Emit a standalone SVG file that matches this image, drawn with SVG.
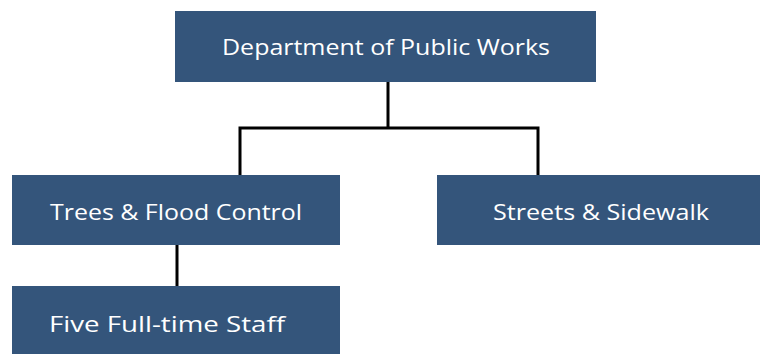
<svg xmlns="http://www.w3.org/2000/svg" width="760" height="354" viewBox="0 0 760 354">
<style>
.box{fill:#34557b;}
.lbl{font-family:"Open Sans","Noto Sans",sans-serif;font-size:22px;fill:#ffffff;}
.con{stroke:#000000;stroke-width:3;fill:none;}
</style>
<rect width="760" height="354" fill="#ffffff"/>
<g id="connectors">
<path class="con" d="M388,82 V128 M240,128 H538 M240,126.5 V175 M538,126.5 V175 M177,245 V286"/>
</g>
<g id="dpw">
<rect class="box" x="175" y="11" width="421" height="71"/>
<text class="lbl" x="222" y="55" textLength="328" lengthAdjust="spacingAndGlyphs">Department of Public Works</text>
</g>
<g id="trees">
<rect class="box" x="12" y="175" width="328" height="70"/>
<text class="lbl" x="50" y="220" textLength="252" lengthAdjust="spacingAndGlyphs">Trees &amp; Flood Control</text>
</g>
<g id="streets">
<rect class="box" x="437" y="175" width="323" height="70"/>
<text class="lbl" x="493" y="220" textLength="216" lengthAdjust="spacingAndGlyphs">Streets &amp; Sidewalk</text>
</g>
<g id="staff">
<rect class="box" x="12" y="286" width="328" height="68"/>
<text class="lbl" x="49" y="332" textLength="236" lengthAdjust="spacingAndGlyphs">Five Full-time Staff</text>
</g>
</svg>
